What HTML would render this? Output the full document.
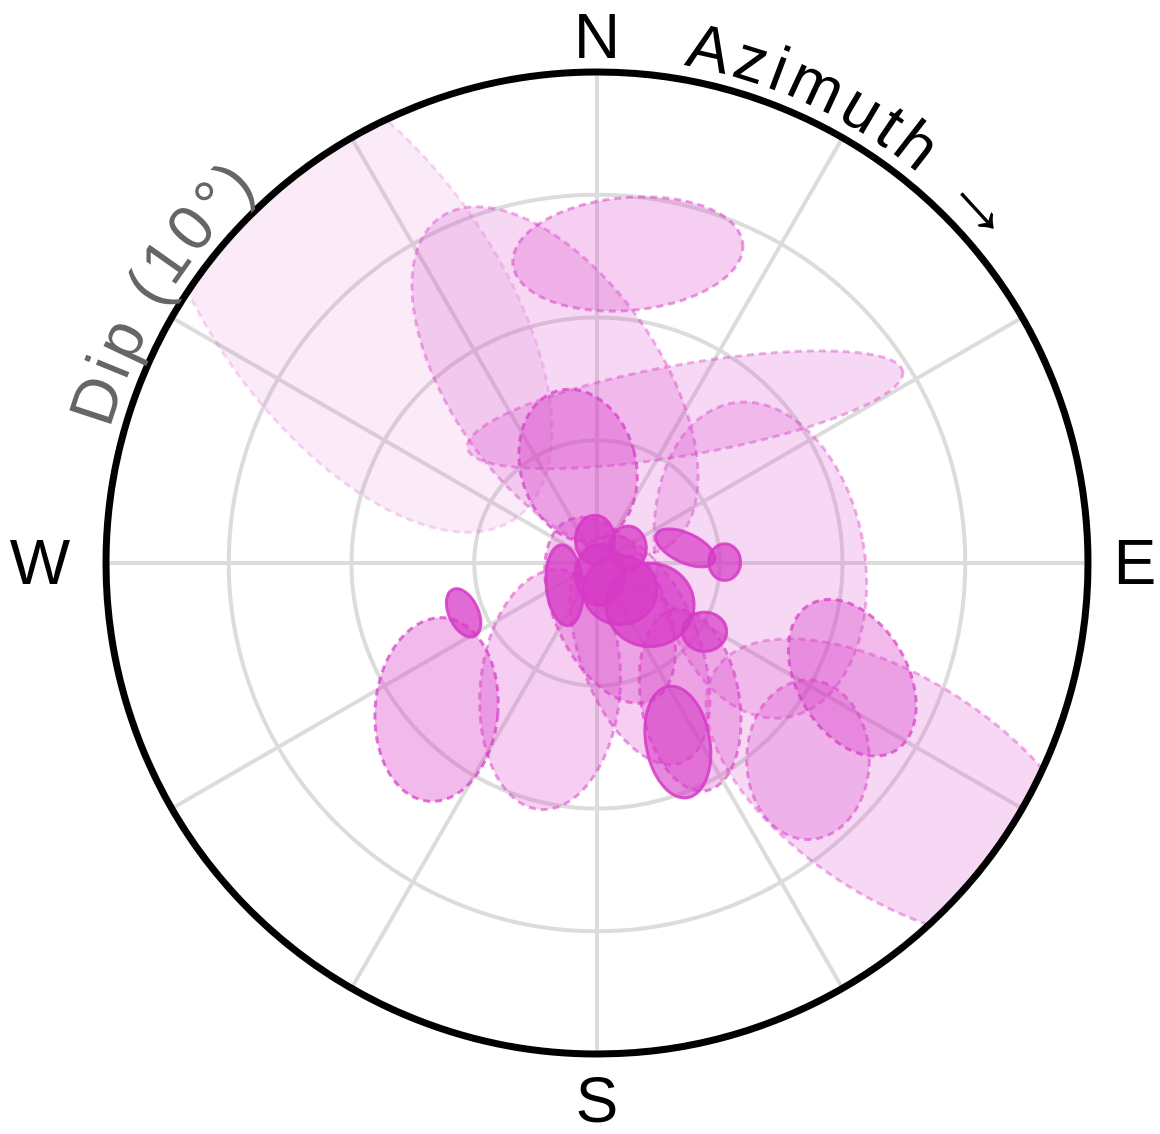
<!DOCTYPE html>
<html><head><meta charset="utf-8"><style>
html,body{margin:0;padding:0;background:#fff;}
svg{display:block;font-family:"Liberation Sans",sans-serif;}
</style></head><body>
<svg id="chart" width="1160" height="1134" viewBox="0 0 1160 1134">
<defs><clipPath id="clip"><circle cx="597" cy="563" r="491"/></clipPath>
<path id="arcPath" d="M597,58 A505,505 0 0 1 597,1068 A505,505 0 0 1 597,58"/></defs>
<g id="grid"></g>
<g id="marks" clip-path="url(#clip)"></g>
<circle cx="597" cy="563" r="491" fill="none" stroke="#000" stroke-width="7"/>
<text x="597" y="58" font-size="64" text-anchor="middle">N</text>
<text x="597" y="1122" font-size="64" text-anchor="middle">S</text>
<text x="40" y="584" font-size="64" text-anchor="middle">W</text>
<text x="1135" y="584" font-size="64" text-anchor="middle">E</text>
<text font-size="64" letter-spacing="5"><textPath href="#arcPath" startOffset="87">Azimuth <tspan font-size="80">→</tspan></textPath></text>
<text font-size="64" letter-spacing="4" fill="#666"><textPath href="#arcPath" startOffset="2515">Dip (10°)</textPath></text>
</svg>
<script>
const ringDips = [10, 20, 30];
const spokeAz = [0, 30, 60, 90, 120, 150, 180, 210, 240, 270, 300, 330];
const maxDip = 40;
// ellipse data: centre azimuth (deg), centre dip (deg), semi-axes (deg), orientation (deg), style
const ellAz =   [318,126.8,5.7,347,29.9,89,349,227.6,200.3,114.2,133,153.7,145.8,164.5, 249.5,235.5,355,64.2,80.3,89.6,128.4,122.6,155.7,139.6,165];
const ellDip =  [30,30.8,25.3,15.2,14.4,13.3,8.1,17.7,11.0,22.8,23.5,7.9,13.5,4.0, 11.6,3.2,1.9,2.8,7.3,10.4,5.5,10.4,16.0,2.9,1.0];
const ellA =    [23,17.9,9.4,16.3,18.0,8.5,4.7,5.0,5.7,4.5,5.0,4.9,4.0,4.5, 1.2,1.5,1.6,1.5,2.6,1.3,3.6,1.8,2.6,3.0,2.0];
const ellB =    [11.5,8.9,4.6,8.5,3.7,13.0,6.3,7.5,9.8,6.9,6.5,9.8,7.5,8.1, 2.1,3.3,2.0,1.8,1.2,1.5,3.4,1.6,4.6,2.8,2.5];
const ellRot =  [54,33,-5,55,-10,-10,-15,5,5,-30,0,-20,-10,-25, -25,-5,0,0,25,0,0,0,-10,0,0];
const ellSolid= [0,0,0,0,0,0,0,0,0,0,0,0,0,0, 1,1,1,1,1,1,1,1,1,1,1];
const ellFillOp=[0.1,0.2,0.25,0.2,0.2,0.2,0.35,0.35,0.25,0.35,0.25,0.25,0.3,0.3, 0.75,0.75,0.75,0.75,0.7,0.7,0.75,0.7,0.6,0.7,0.75];

const cx = 597, cy = 563, R = 491;
const ns = "http://www.w3.org/2000/svg";
function rScale(d){ return d / maxDip * R; }
function px(az, dip){ const a = az*Math.PI/180; return [cx + rScale(dip)*Math.sin(a), cy - rScale(dip)*Math.cos(a)]; }

const grid = document.getElementById('grid');
ringDips.forEach(d => {
  const c = document.createElementNS(ns,'circle');
  c.setAttribute('cx',cx); c.setAttribute('cy',cy); c.setAttribute('r',rScale(d));
  c.setAttribute('fill','none'); c.setAttribute('stroke','#dcdcdc'); c.setAttribute('stroke-width','4');
  
  
  grid.appendChild(c);
});
spokeAz.forEach(az => {
  const [x,y] = px(az, maxDip);
  const l = document.createElementNS(ns,'line');
  l.setAttribute('x1',cx); l.setAttribute('y1',cy); l.setAttribute('x2',x); l.setAttribute('y2',y);
  l.setAttribute('stroke','#dcdcdc'); l.setAttribute('stroke-width','4');
  
  
  grid.appendChild(l);
});
const marks = document.getElementById('marks');
ellAz.forEach((az,i) => {
  const [x,y] = px(az, ellDip[i]);
  const e = document.createElementNS(ns,'ellipse');
  e.setAttribute('cx',x); e.setAttribute('cy',y);
  e.setAttribute('rx',rScale(ellA[i])); e.setAttribute('ry',rScale(ellB[i]));
  e.setAttribute('transform',`rotate(${ellRot[i]} ${x} ${y})`);
  e.setAttribute('fill','rgba(214,58,198,'+ellFillOp[i]+')');
  if (ellSolid[i]) {
    e.setAttribute('stroke','rgba(214,58,198,0.85)'); e.setAttribute('stroke-width','3');
  } else {
    e.setAttribute('stroke','rgba(214,58,198,'+Math.min(0.7,ellFillOp[i]*2)+')');
    e.setAttribute('stroke-width','3'); e.setAttribute('stroke-dasharray','7 5');
  }
  
  
  marks.appendChild(e);
});
</script>
</body></html>
